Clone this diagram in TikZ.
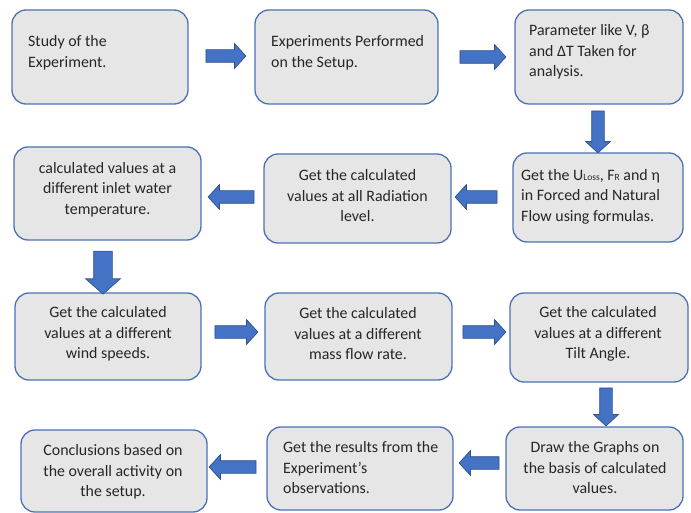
\documentclass[tikz,border=0pt]{standalone}
\usepackage{fontspec}
\setmainfont{Carlito}
\usetikzlibrary{shapes.arrows}
\definecolor{boxfill}{RGB}{231,230,230}
\definecolor{boxline}{RGB}{74,114,180}
\definecolor{arrfill}{RGB}{68,114,196}
\definecolor{arrline}{RGB}{47,82,143}
\definecolor{txtcol}{RGB}{38,38,38}
\begin{document}
\begin{tikzpicture}[x=1pt,y=-1pt,
  stepbox/.style={draw=boxline, fill=boxfill, line width=1.3pt, rounded corners=14pt, inner sep=0pt},
  boxtext/.style={text=txtcol, font=\fontsize{15.9}{20.5}\selectfont, inner sep=0pt},
  barrow/.style={single arrow, draw=arrline, fill=arrfill, line width=0.7pt, inner xsep=0pt, inner ysep=6pt,
    single arrow head extend=6pt, single arrow tip angle=95,
    single arrow head indent=0pt, minimum height=#1},
  barrow/.default=42pt,
]
\useasboundingbox (0,0) rectangle (691,513);

% boxes
\node[stepbox, minimum width=176pt, minimum height=94pt] (b1) at (100,57) {};
\node[stepbox, minimum width=183pt, minimum height=94pt] (b2) at (346.5,57) {};
\node[stepbox, minimum width=168pt, minimum height=94pt] (b3) at (599,57) {};
\node[stepbox, minimum width=170pt, minimum height=89pt] (b4) at (598,197.5) {};
\node[stepbox, minimum width=187pt, minimum height=89pt] (b5) at (357.5,198.5) {};
\node[stepbox, minimum width=187pt, minimum height=93pt] (b6) at (107.5,193.5) {};
\node[stepbox, minimum width=186pt, minimum height=87pt] (b7) at (108,336.5) {};
\node[stepbox, minimum width=187pt, minimum height=87pt] (b8) at (358.5,336.5) {};
\node[stepbox, minimum width=178pt, minimum height=89pt] (b9) at (599,337.5) {};
\node[stepbox, minimum width=177pt, minimum height=83pt] (b10) at (594.5,468.5) {};
\node[stepbox, minimum width=186pt, minimum height=83pt] (b11) at (360,468.5) {};
\node[stepbox, minimum width=186pt, minimum height=82pt] (b12) at (114,471) {};

% texts
\node[boxtext, anchor=west, align=left] (t1) at (28,53) {Study of the\\Experiment.};
\node[boxtext, anchor=west, align=left] (t2) at (271,53) {Experiments Performed\\on the Setup.};
\node[boxtext, anchor=west, align=left] (t3) at (529,52) {Parameter like V, β\\and ΔT Taken for\\analysis.};
\node[boxtext, anchor=west, align=left] (t4) at (521,196.5) {Get the U{\fontsize{9.5}{9.5}\selectfont Loss}, F{\fontsize{9.5}{9.5}\selectfont R} and η\\in Forced and Natural\\Flow using formulas.};
\node[boxtext, align=center] (t5) at (357.5,196) {Get the calculated\\values at all Radiation\\level.};
\node[boxtext, align=center] (t6) at (107.5,189.5) {calculated values at a\\different inlet water\\temperature.};
\node[boxtext, align=center] (t7) at (108,334) {Get the calculated\\values at a different\\wind speeds.};
\node[boxtext, align=center] (t8) at (358,334) {Get the calculated\\values at a different\\mass flow rate.};
\node[boxtext, align=center] (t9) at (598,334) {Get the calculated\\values at a different\\Tilt Angle.};
\node[boxtext, align=center] (t10) at (595,468) {Draw the Graphs on\\the basis of calculated\\values.};
\node[boxtext, anchor=west, align=left] (t11) at (283,468) {Get the results from the\\Experiment’s\\observations.};
\node[boxtext, align=center] (t12) at (113,472) {Conclusions based on\\the overall activity on\\the setup.};

% block arrows
\node[barrow=40pt] (a1) at (223,56) {};
\node[barrow=46pt] (a2) at (480,57) {};
\node[barrow=42pt, rotate=-90] (a3) at (598,129) {};
\node[barrow=42pt, rotate=180] (a4) at (479,197) {};
\node[barrow=46pt, rotate=180] (a5) at (234,197) {};
\node[barrow=43pt, rotate=-90, inner ysep=9pt, single arrow head extend=8pt, single arrow tip angle=97] (a6) at (103,268.5) {};
\node[barrow=43pt] (a7) at (233.5,332) {};
\node[barrow=43pt] (a8) at (481.5,332) {};
\node[barrow=38pt, rotate=-90] (a9) at (606,404) {};
\node[barrow=40pt, rotate=180] (a10) at (482,463) {};
\node[barrow=47pt, rotate=180] (a11) at (235.5,467) {};
\end{tikzpicture}
\end{document}
